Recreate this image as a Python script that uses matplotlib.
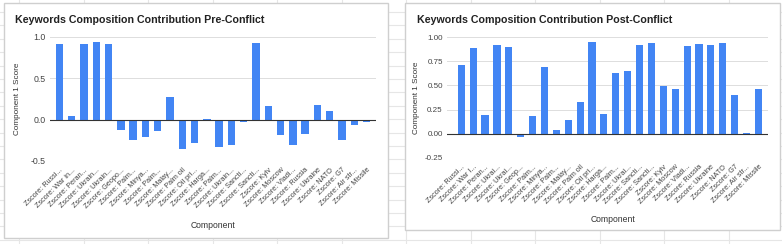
import matplotlib.pyplot as plt
from matplotlib.patches import Rectangle
import numpy as np

plt.rcParams["font.family"] = ["Liberation Sans", "DejaVu Sans"]

# 数据
labels_pre = ["Zscore: Russi...", "Zscore: War in...", "Zscore: Peran...", "Zscore: Ukrain...",
              "Zscore: Ukrain...", "Zscore: Geopo...", "Zscore: Palm...", "Zscore: Minya...",
              "Zscore: Palm...", "Zscore: Malay...", "Zscore: Palm oil", "Zscore: Oil pri...",
              "Zscore: Harga...", "Zscore: Palm...", "Zscore: Ukrain...", "Zscore: Sancti...",
              "Zscore: Sancti...", "Zscore: Kyiv", "Zscore: Moscow", "Zscore: Vladi...",
              "Zscore: Russia", "Zscore: Ukraine", "Zscore: NATO", "Zscore: G7",
              "Zscore: Air str...", "Zscore: Missile"]
labels_post = ["Zscore: Russi...", "Zscore: War I...", "Zscore: Peran...", "Zscore: Ukrai...",
               "Zscore: Ukrai...", "Zscore: Geop...", "Zscore: Palm...", "Zscore: Minya...",
               "Zscore: Palm...", "Zscore: Malay...", "Zscore: Palm oil", "Zscore: Oil pri...",
               "Zscore: Harga...", "Zscore: Palm...", "Zscore: Ukrai...", "Zscore: Sancti...",
               "Zscore: Sancti...", "Zscore: Kyiv", "Zscore: Moscow", "Zscore: Vladi...",
               "Zscore: Russia", "Zscore: Ukraine", "Zscore: NATO", "Zscore: G7",
               "Zscore: Air str...", "Zscore: Missile"]
pre = [0.92, 0.05, 0.92, 0.94, 0.92, -0.13, -0.25, -0.21, -0.14, 0.27, -0.35, -0.28, 0.01,
       -0.33, -0.31, -0.03, 0.93, 0.17, -0.19, -0.31, -0.17, 0.18, 0.10, -0.24, -0.06, -0.03]
post = [0.71, 0.89, 0.19, 0.92, 0.90, -0.03, 0.18, 0.69, 0.04, 0.14, 0.33, 0.95, 0.20,
        0.63, 0.65, 0.92, 0.94, 0.49, 0.46, 0.91, 0.93, 0.92, 0.94, 0.40, 0.01, 0.46]

W, H = 782, 244
fig = plt.figure(figsize=(W / 100, H / 100), dpi=100)
fig.patch.set_facecolor("white")


def fx(x):
    return x / W


def fy(y):
    return 1 - y / H


# 背景表格线
for x in np.arange(19, W, 64.5):
    fig.add_artist(plt.Line2D([fx(x), fx(x)], [0, 1], color="#e6e6e6", lw=0.8, zorder=0))
for y in np.arange(12, H, 13.4):
    fig.add_artist(plt.Line2D([0, 1], [fy(y), fy(y)], color="#e6e6e6", lw=0.8, zorder=0))


def card(x0, y0, x1, y1):
    fig.add_artist(Rectangle((fx(x0), fy(y1)), fx(x1 - x0), (y1 - y0) / H,
                             facecolor="white", edgecolor="#cfcfcf", lw=1.0, zorder=1))


card(4, 3, 388, 238)
card(405, 3, 780, 230)


def draw(rect, values, labels, ylim, xlim, ticks, ticklabels, tfs, title, tx, ty,
         ylab_x, xlab_x, xlab_y):
    ax = fig.add_axes(rect, zorder=2)
    ax.set_facecolor("none")
    idx = np.arange(len(values))
    ax.bar(idx, values, width=0.6, color="#4285f4", zorder=3)
    ax.set_xlim(*xlim)
    ax.set_ylim(*ylim)
    ax.set_yticks(ticks)
    ax.set_yticklabels(ticklabels, fontsize=tfs, color="#444444")
    ax.yaxis.grid(True, color="#dddddd", lw=0.7, zorder=0)
    ax.axhline(0, color="#333333", lw=0.8, zorder=4)
    ax.set_xticks(idx)
    ax.set_xticklabels(labels, rotation=45, ha="right", rotation_mode="anchor",
                       fontsize=5.2, color="#444444")
    ax.tick_params(axis="x", length=0, pad=4)
    ax.tick_params(axis="y", length=0, pad=3)
    for s in ax.spines.values():
        s.set_visible(False)
    fig.text(fx(tx), fy(ty), title, fontsize=7.7, fontweight="bold", color="#222222",
             va="center", ha="left", zorder=5)
    fig.text(fx(ylab_x), rect[1] + rect[3] / 2, "Component 1 Score", rotation=90,
             fontsize=5.9, color="#333333", va="center", ha="center", zorder=5)
    fig.text(fx(xlab_x), fy(xlab_y), "Component", fontsize=6.2, color="#333333",
             va="center", ha="center", zorder=5)
    return ax


draw([fx(50), fy(161), fx(376 - 50), (161 - 37) / H], pre, labels_pre,
     (-0.5, 1.0), (-0.77, 25.77), [-0.5, 0.0, 0.5, 1.0], ["-0.5", "0.0", "0.5", "1.0"], 6.3,
     "Keywords Composition Contribution Pre-Conflict", 15, 20, 18, 213, 225)
draw([fx(447), fy(158), fx(768 - 447), (158 - 37) / H], post, labels_post,
     (-0.25, 1.0), (-1.2, 25.8), [-0.25, 0.0, 0.25, 0.5, 0.75, 1.0],
     ["-0.25", "0.00", "0.25", "0.50", "0.75", "1.00"], 5.8,
     "Keywords Composition Contribution Post-Conflict", 417, 20, 416, 613, 220)

plt.savefig("out.png", dpi=100)
